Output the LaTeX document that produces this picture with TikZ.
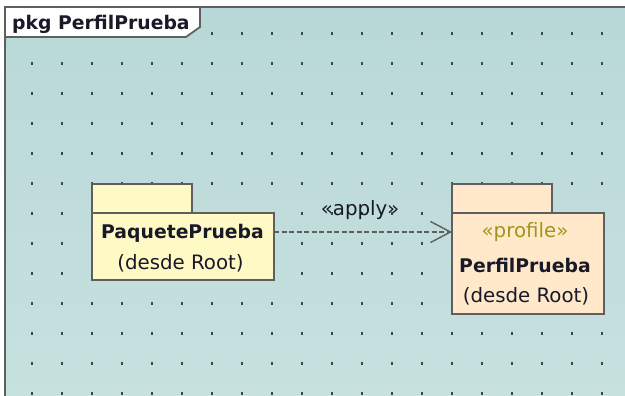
\documentclass[tikz,border=0pt]{standalone}
\usepackage{fontspec}
\setmainfont{DejaVu Sans}
\usetikzlibrary{arrows.meta}
\definecolor{bgtop}{RGB}{184,216,216}
\definecolor{bgbot}{RGB}{199,225,223}
\definecolor{linegray}{RGB}{95,95,95}
\definecolor{dotgray}{RGB}{60,72,72}
\definecolor{pkgyellow}{RGB}{255,249,198}
\definecolor{pkgpeach}{RGB}{255,233,202}
\definecolor{stereo}{RGB}{160,150,30}
\definecolor{txt}{RGB}{25,25,40}
\tikzset{
  pkgshape/.style={draw=linegray, line width=1.8pt, inner sep=0pt, outer sep=0pt, minimum width=#1},
  boldtxt/.style={font=\fontsize{18.8}{20}\selectfont\bfseries, text=txt, inner sep=0pt, anchor=base},
  regtxt/.style={font=\fontsize{19.8}{21}\selectfont, text=txt, inner sep=0pt, anchor=base},
  stereotxt/.style={font=\fontsize{19.8}{21}\selectfont, text=stereo, inner sep=0pt, anchor=base},
  applyline/.style={draw=linegray, line width=1.5pt, dash pattern=on 5pt off 2.5pt, -{Straight Barb[length=20pt,width=21pt,line width=1.4pt]}},
}
\begin{document}
\begin{tikzpicture}[x=1pt,y=-1pt]
\useasboundingbox (0,0) rectangle (625,396);
% background of frame
\shade[top color=bgtop, bottom color=bgbot] (5,7) rectangle (632,402);
% dot grid
\foreach \x in {32,62,...,602}
  \foreach \y in {33.5,63.5,...,393.5}
    \fill[dotgray] (\x-1.2,\y-1.2) rectangle (\x+1.2,\y+1.2);
% frame
\draw[linegray, line width=2.2pt] (5,402) -- (5,7) -- (632,7);
% tab
\draw[linegray, line width=1.8pt, fill=white] (5,7) -- (200,7) -- (200,27) -- (186,37) -- (5,37) -- cycle;
\node[boldtxt, anchor=base west] (title) at (12,29.5) {pkg PerfilPrueba};
% left package
\node[pkgshape=100pt, minimum height=30pt, fill=pkgyellow, anchor=north west] (pqtab) at (92,184) {};
\node[pkgshape=182pt, minimum height=67pt, fill=pkgyellow, anchor=north west] (pq) at (92,213) {};
\node[boldtxt] (pqname) at (182.5,238) {PaquetePrueba};
\node[regtxt] (pqfrom) at (180.5,269.5) {(desde Root)};
% right package
\node[pkgshape=100pt, minimum height=30pt, fill=pkgpeach, anchor=north west] (pftab) at (452,184) {};
\node[pkgshape=152pt, minimum height=101pt, fill=pkgpeach, anchor=north west] (pf) at (452,213) {};
\node[stereotxt] (pfst) at (525,237) {«profile»};
\node[boldtxt] (pfname) at (525,272) {PerfilPrueba};
\node[regtxt] (pffrom) at (526,302.5) {(desde Root)};
% apply dependency
\draw[applyline] ([yshift=-19pt]pq.north east) -- ([yshift=-19pt]pf.north west);
\node[regtxt] (applylbl) at (360,215) {«apply»};
\end{tikzpicture}
\end{document}
